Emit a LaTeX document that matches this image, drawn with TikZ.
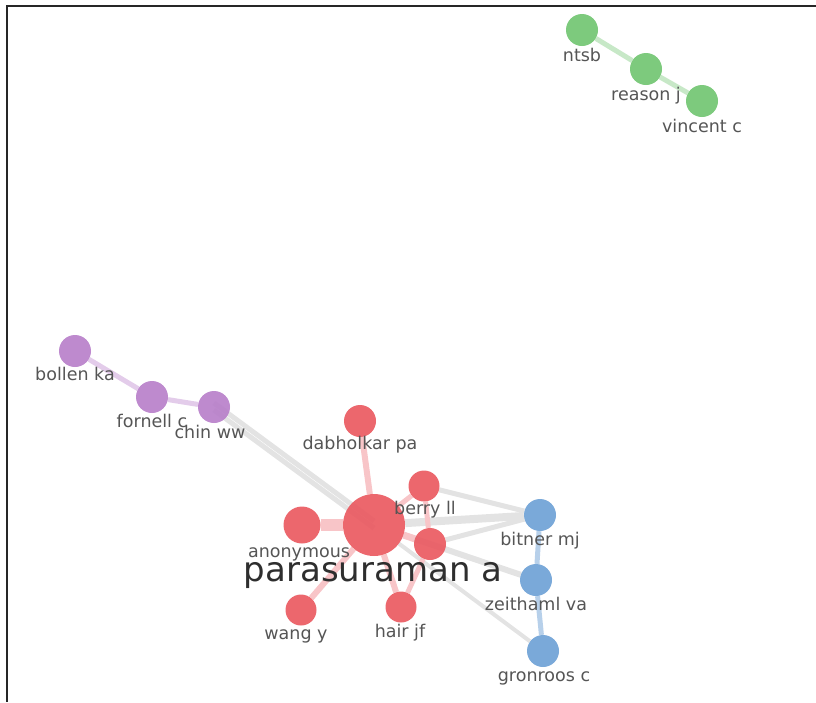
\documentclass[tikz,border=0pt]{standalone}
\usepackage{fontspec}
\setmainfont{DejaVu Sans}
\usetikzlibrary{backgrounds}
\definecolor{vred}{HTML}{EA5A61}
\definecolor{vgreen}{HTML}{72C572}
\definecolor{vblue}{HTML}{6FA2D6}
\definecolor{vpurple}{HTML}{B880CA}
\definecolor{vlab}{HTML}{555555}
\tikzset{
  dot/.style={circle, inner sep=0pt, minimum size=#1, fill opacity=0.92, draw=none},
  rdot/.style={dot=#1, fill=vred},
  gdot/.style={dot=#1, fill=vgreen},
  bdot/.style={dot=#1, fill=vblue},
  pdot/.style={dot=#1, fill=vpurple},
  lab/.style={text=vlab, font=\fontsize{17.5}{17.5}\selectfont, inner sep=0pt, anchor=base},
  redge/.style={draw=vred!35, line width=#1},
  gredge/.style={draw=black!11, line width=#1},
  grnedge/.style={draw=vgreen!40, line width=#1},
  pedge/.style={draw=vpurple!40, line width=#1},
  bedge/.style={draw=vblue!50, line width=#1},
}
\begin{document}
\begin{tikzpicture}[x=1pt, y=-1pt]
\useasboundingbox (0,0) rectangle (816,702);
\draw[line width=2pt, black!85] (6,6) -- (816,6);
\draw[line width=2pt, black!85] (7,6) -- (7,702);

% nodes
\node[gdot=32pt] (ntsb) at (582,30) {};
\node[gdot=32pt] (reason) at (646,69) {};
\node[gdot=32pt] (vincent) at (702,101) {};
\node[pdot=32pt] (bollen) at (75,351) {};
\node[pdot=32pt] (fornell) at (152,397) {};
\node[pdot=32pt] (chin) at (214,407) {};
\node[rdot=32pt] (dabh) at (360,421) {};
\node[rdot=37pt] (anon) at (302,525) {};
\node[rdot=31pt] (berry) at (424,486) {};
\node[rdot=32pt] (zthr) at (430,544) {};
\node[rdot=62pt] (para) at (374,525) {};
\node[rdot=31pt] (wang) at (301,610) {};
\node[rdot=31pt] (hair) at (401,607) {};
\node[bdot=32pt] (bitner) at (540,515) {};
\node[bdot=32pt] (zeit) at (536,580) {};
\node[bdot=32pt] (gron) at (543,651) {};

% labels
\node[lab] (lntsb) at (582,61) {ntsb};
\node[lab] (lreason) at (646,100) {reason j};
\node[lab] (lvincent) at (702,132) {vincent c};
\node[lab] (lbollen) at (75,380) {bollen ka};
\node[lab] (lfornell) at (152,427) {fornell c};
\node[lab] (lchin) at (210,438) {chin ww};
\node[lab] (ldabh) at (360,449) {dabholkar pa};
\node[lab] (lberry) at (425,514) {berry ll};
\node[lab] (lanon) at (299,557) {anonymous};
\node[lab] (lwang) at (296,639) {wang y};
\node[lab] (lhair) at (400,637) {hair jf};
\node[lab] (lbitner) at (540,545) {bitner mj};
\node[lab] (lzeit) at (536,610) {zeithaml va};
\node[lab] (lgron) at (544,681) {gronroos c};
\node[text=black!82, font=\fontsize{34}{34}\selectfont, inner sep=0pt, anchor=base] (lpara) at (373,581) {parasuraman a};

% edges
\begin{pgfonlayer}{background}
\draw[grnedge=5pt] (ntsb) -- (reason) -- (vincent);
\draw[pedge=5pt] (bollen) -- (fornell) -- (chin);
\draw[gredge=5pt] ([yshift=-3pt]chin.center) -- ([yshift=-3pt]para.center);
\draw[gredge=5pt] ([yshift=4pt]chin.center) -- ([yshift=4pt]para.center);
\draw[gredge=8pt] (para) -- (bitner);
\draw[gredge=5pt] (zthr) -- (bitner);
\draw[gredge=5pt] (berry) -- (bitner);
\draw[gredge=6pt] (para) -- (zeit);
\draw[gredge=4pt] (para) -- (gron);
\draw[bedge=5pt] (bitner) -- (zeit) -- (gron);
\draw[redge=6pt] (dabh) -- (para);
\draw[redge=12pt] (anon) -- (para);
\draw[redge=5pt] (berry) -- (para);
\draw[redge=5pt] (berry) -- (zthr);
\draw[redge=7pt] (zthr) -- (para);
\draw[redge=6pt] (wang) -- (para);
\draw[redge=6pt] (hair) -- (para);
\draw[redge=5pt] (hair) -- (zthr);
\end{pgfonlayer}
\end{tikzpicture}
\end{document}
